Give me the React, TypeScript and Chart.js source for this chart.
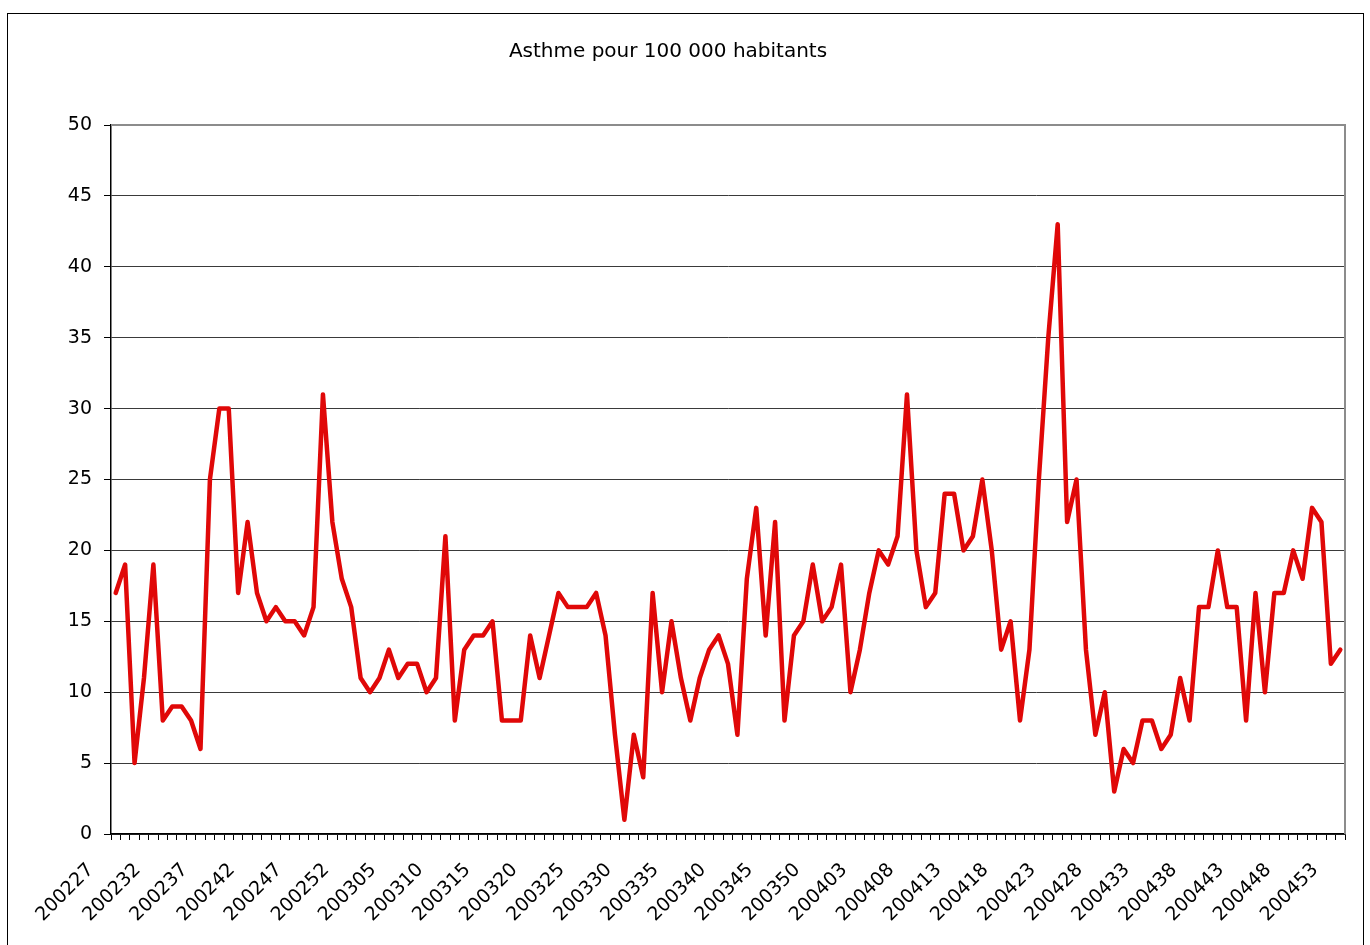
import React, { useEffect, useRef } from "react";
import { Chart, registerables } from "chart.js";

Chart.register(...registerables);

const TITLE = "Asthme pour 100 000 habitants";

const weeks2002 = [
  "200227", "200228", "200229", "200230", "200231", "200232", "200233", "200234", "200235", "200236",
  "200237", "200238", "200239", "200240", "200241", "200242", "200243", "200244", "200245", "200246",
  "200247", "200248", "200249", "200250", "200251", "200252",
];
const weeks2003 = [
  "200301", "200302", "200303", "200304", "200305", "200306", "200307", "200308", "200309", "200310",
  "200311", "200312", "200313", "200314", "200315", "200316", "200317", "200318", "200319", "200320",
  "200321", "200322", "200323", "200324", "200325", "200326", "200327", "200328", "200329", "200330",
  "200331", "200332", "200333", "200334", "200335", "200336", "200337", "200338", "200339", "200340",
  "200341", "200342", "200343", "200344", "200345", "200346", "200347", "200348", "200349", "200350",
  "200351", "200352",
];
const weeks2004 = [
  "200401", "200402", "200403", "200404", "200405", "200406", "200407", "200408", "200409", "200410",
  "200411", "200412", "200413", "200414", "200415", "200416", "200417", "200418", "200419", "200420",
  "200421", "200422", "200423", "200424", "200425", "200426", "200427", "200428", "200429", "200430",
  "200431", "200432", "200433", "200434", "200435", "200436", "200437", "200438", "200439", "200440",
  "200441", "200442", "200443", "200444", "200445", "200446", "200447", "200448", "200449", "200450",
  "200451", "200452", "200453",
];

const asthma2002 = [
  17, 19, 5, 11, 19, 8, 9, 9, 8, 6, 25, 30, 30, 17, 22, 17, 15, 16, 15, 15, 14, 16, 31, 22, 18, 16,
];
const asthma2003 = [
  11, 10, 11, 13, 11, 12, 12, 10, 11, 21, 8, 13, 14, 14,
  15, 8, 8, 8, 14, 11, 14, 17, 16, 16, 16, 17, 14, 7, 1, 7, 4, 17, 10, 15,
  11, 8, 11, 13, 14, 12, 7, 18, 23, 14, 22, 8, 14, 15, 19, 15, 16, 19,
];
const asthma2004 = [
  10, 13,
  17, 20, 19, 21, 31, 20, 16, 17, 24, 24, 20, 21, 25, 20, 13, 15, 8, 13, 25, 35,
  43, 22, 25, 13, 7, 10, 3, 6, 5, 8, 8, 6, 7, 11, 8, 16, 16, 20, 16, 16,
  8, 17, 10, 17, 17, 20, 18, 23, 22, 12, 13,
];

const Y_MIN = 0;
const Y_MAX = 50;
const Y_STEP = 5;
const LABEL_EVERY = 5;

const FONT = '"DejaVu Sans", Verdana, sans-serif';
const CANVAS_W = 1355;
const CANVAS_H = 931;

export default function App() {
  const ref = useRef<HTMLCanvasElement | null>(null);

  useEffect(() => {
    if (!ref.current) return;
    const labels = [...weeks2002, ...weeks2003, ...weeks2004];
    const values = [...asthma2002, ...asthma2003, ...asthma2004];

    const framePlugin = {
      id: "frame",
      beforeDatasetsDraw(chart: any) {
        const { ctx, chartArea } = chart;
        ctx.save();
        ctx.strokeStyle = "#8c8c8c";
        ctx.lineWidth = 2;
        ctx.beginPath();
        ctx.moveTo(chartArea.left, chartArea.top);
        ctx.lineTo(chartArea.right, chartArea.top);
        ctx.lineTo(chartArea.right, chartArea.bottom);
        ctx.stroke();
        ctx.restore();
      },
      afterDraw(chart: any) {
        const { ctx } = chart;
        ctx.save();
        ctx.font = `20px ${FONT}`;
        ctx.fillStyle = "#000";
        ctx.textAlign = "center";
        ctx.textBaseline = "alphabetic";
        ctx.fillText(TITLE, 660, 43);
        ctx.restore();
      },
    };

    const chart = new Chart(ref.current, {
      type: "line",
      data: {
        labels,
        datasets: [
          {
            label: TITLE,
            data: values,
            borderColor: "#e00808",
            borderWidth: 4.5,
            borderJoinStyle: "round",
            borderCapStyle: "round",
            pointRadius: 0,
            tension: 0,
            fill: false,
          },
        ],
      },
      options: {
        responsive: false,
        animation: false,
        devicePixelRatio: 1,
        layout: { padding: { top: 111, right: 18, left: 0, bottom: 0 } },
        plugins: {
          legend: { display: false },
          title: { display: false },
          tooltip: { enabled: false },
        },
        scales: {
          x: {
            type: "category",
            offset: true,
            grid: {
              offset: true,
              drawOnChartArea: false,
              drawTicks: true,
              tickLength: 6,
              color: "#000",
            },
            border: { display: true, color: "#000", width: 1.5 },
            ticks: {
              autoSkip: false,
              maxRotation: 45,
              minRotation: 45,
              labelOffset: -25,
              padding: 19,
              color: "#000",
              font: { family: FONT, size: 19 },
              callback: (_v: any, i: number) => (i % LABEL_EVERY === 0 ? labels[i] : ""),
            },
            afterFit: (scale: any) => {
              scale.height = 111;
              scale.paddingLeft = 0;
              scale.paddingRight = 0;
            },
          },
          y: {
            min: Y_MIN,
            max: Y_MAX,
            grid: {
              color: "#3a3a3a",
              lineWidth: 1,
              drawTicks: true,
              tickLength: 7,
              tickColor: "#000",
            },
            border: { display: true, color: "#000", width: 1.5 },
            ticks: {
              stepSize: Y_STEP,
              padding: 12,
              color: "#000",
              font: { family: FONT, size: 19 },
            },
            afterFit: (scale: any) => {
              scale.width = 103;
              scale.paddingTop = 0;
              scale.paddingBottom = 0;
            },
          },
        },
      },
      plugins: [framePlugin],
    });

    return () => chart.destroy();
  }, []);

  return (
    <div
      style={{
        position: "fixed",
        left: 7,
        top: 13,
        width: CANVAS_W,
        height: CANVAS_H + 10,
        borderLeft: "1px solid #000",
        borderTop: "1px solid #000",
        borderRight: "1px solid #000",
        background: "#fff",
      }}
    >
      <canvas
        ref={ref}
        width={CANVAS_W}
        height={CANVAS_H}
        style={{ display: "block", width: CANVAS_W, height: CANVAS_H }}
      />
    </div>
  );
}
